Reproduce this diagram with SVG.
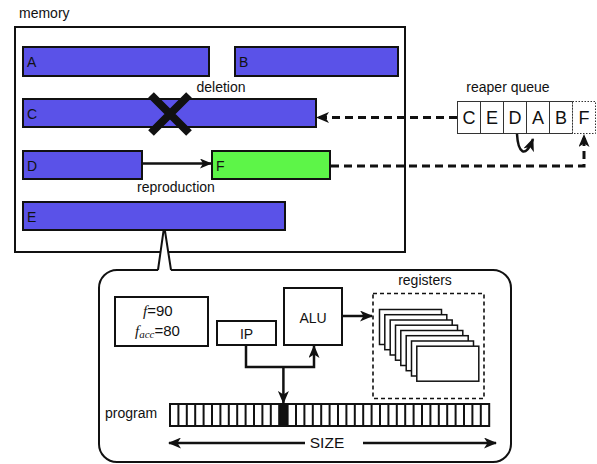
<svg xmlns="http://www.w3.org/2000/svg" width="597" height="464" viewBox="0 0 597 464">
<style>
text{font-family:"Liberation Sans",Arial,sans-serif;fill:#111}
.lbl{font-size:14px}
.blk{fill:#5a52e8;stroke:#111;stroke-width:2}
.grn{fill:#5df548;stroke:#111;stroke-width:2}
.bl{font-size:14px}
.q{fill:#fff;stroke:#333;stroke-width:1}
.qt{font-size:18px;text-anchor:middle}
.box{fill:#fff;stroke:#111;stroke-width:2}
.dash{fill:none;stroke:#111;stroke-width:3;stroke-dasharray:8 5}
.ln{fill:none;stroke:#111;stroke-width:2.5}
.reg{fill:#fff;stroke:#111;stroke-width:1.5}
</style>
<defs>
<marker id="ah" viewBox="0 0 12 10" refX="11" refY="5" markerWidth="12" markerHeight="10" markerUnits="userSpaceOnUse" orient="auto">
<path d="M0,0 L12,5 L0,10 L3,5 z" fill="#111"/>
</marker>
<marker id="ahb" viewBox="0 0 13 11" refX="12" refY="5.5" markerWidth="13" markerHeight="11" markerUnits="userSpaceOnUse" orient="auto">
<path d="M0,0 L13,5.5 L0,11 L3.5,5.5 z" fill="#111"/>
</marker>
</defs>
<rect width="597" height="464" fill="#fff"/>

<g id="memory">
<text class="lbl" x="19" y="18">memory</text>
<rect x="15" y="27" width="390" height="225" fill="#fff" stroke="#111" stroke-width="2"/>
</g>

<g id="A"><rect class="blk" x="23" y="47" width="186" height="29"/><text class="bl" x="27" y="67">A</text></g>
<g id="B"><rect class="blk" x="235" y="47" width="163" height="29"/><text class="bl" x="239" y="67">B</text></g>
<g id="C"><rect class="blk" x="23" y="99" width="293" height="28"/><text class="bl" x="27" y="119">C</text></g>
<g id="D"><rect class="blk" x="23" y="151" width="119" height="28"/><text class="bl" x="27" y="171">D</text></g>
<g id="F"><rect class="grn" x="212" y="151" width="118" height="28"/><text class="bl" x="216" y="171">F</text></g>
<g id="E"><rect class="blk" x="23" y="202" width="262" height="28"/><text class="bl" x="27" y="222">E</text></g>

<g id="deletion">
<path d="M151,95 L189,133 M189,95 L151,133" stroke="#111" stroke-width="8"/>
<text class="lbl" x="221" y="92" text-anchor="middle">deletion</text>
</g>
<text class="lbl" x="176" y="192" text-anchor="middle">reproduction</text>

<g id="queue">
<text class="lbl" x="508" y="92" text-anchor="middle">reaper queue</text>
<rect class="q" x="457.5" y="101.5" width="23" height="32"/>
<rect class="q" x="480.5" y="101.5" width="23" height="32"/>
<rect class="q" x="503.5" y="101.5" width="23" height="32"/>
<rect class="q" x="526.5" y="101.5" width="23" height="32"/>
<rect class="q" x="549.5" y="101.5" width="23" height="32"/>
<rect x="572.5" y="101.5" width="23" height="32" fill="#fff" stroke="#333" stroke-width="1" stroke-dasharray="1.5 1.5"/>
<text class="qt" x="469" y="124">C</text>
<text class="qt" x="492" y="124">E</text>
<text class="qt" x="515" y="124">D</text>
<text class="qt" x="538" y="124">A</text>
<text class="qt" x="561" y="124">B</text>
<text class="qt" x="584" y="124">F</text>
</g>

<g id="panel">
<path d="M158,270 H117 A18,18 0 0 0 99,288 V444 A18,18 0 0 0 117,462 H493 A18,18 0 0 0 511,444 V288 A18,18 0 0 0 493,270 H171" fill="#fff" stroke="#111" stroke-width="2"/>
<path d="M158,270 L163.5,231 L165,231 L171,270" fill="#fff" stroke="#111" stroke-width="2" stroke-linejoin="miter"/>
</g>

<g id="fitness">
<rect class="box" x="115" y="297" width="93" height="49"/>
<text x="143" y="316" font-size="15"><tspan font-family="Liberation Serif,serif" font-style="italic">f</tspan>=90</text>
<text x="135" y="336" font-size="15"><tspan font-family="Liberation Serif,serif" font-style="italic">f</tspan><tspan font-family="Liberation Serif,serif" font-style="italic" font-size="11" dy="2">acc</tspan><tspan dy="-2">=80</tspan></text>
</g>

<g id="IP"><rect class="box" x="217" y="321" width="59" height="24"/><text class="lbl" x="246.5" y="339" text-anchor="middle">IP</text></g>
<g id="ALU"><rect class="box" x="284" y="288" width="58" height="57"/><text class="lbl" x="313" y="323" text-anchor="middle">ALU</text></g>

<g id="registers">
<text class="lbl" x="425" y="285" text-anchor="middle">registers</text>
<rect x="373" y="293.5" width="111" height="105" fill="none" stroke="#111" stroke-width="1.6" stroke-dasharray="4 3"/>
<rect class="reg" x="379.5" y="309.5" width="62" height="35"/>
<rect class="reg" x="384.8" y="314.7" width="62" height="35"/>
<rect class="reg" x="390.2" y="320" width="62" height="35"/>
<rect class="reg" x="395.5" y="325.2" width="62" height="35"/>
<rect class="reg" x="400.8" y="330.5" width="62" height="35"/>
<rect class="reg" x="406.2" y="335.7" width="62" height="35"/>
<rect class="reg" x="411.5" y="341" width="62" height="35"/>
<rect class="reg" x="416.8" y="346.2" width="62" height="35"/>
</g>

<g id="program">
<text class="lbl" x="105" y="418">program</text>
<rect x="170" y="404" width="319.2" height="22" fill="#fff" stroke="#111" stroke-width="2"/>
<rect x="279.2" y="404" width="8.4" height="22" fill="#111"/>
<path d="M178.4,404V426M186.8,404V426M195.2,404V426M203.6,404V426M212,404V426M220.4,404V426M228.8,404V426M237.2,404V426M245.6,404V426M254,404V426M262.4,404V426M270.8,404V426M279.2,404V426M287.6,404V426M296,404V426M304.4,404V426M312.8,404V426M321.2,404V426M329.6,404V426M338,404V426M346.4,404V426M354.8,404V426M363.2,404V426M371.6,404V426M380,404V426M388.4,404V426M396.8,404V426M405.2,404V426M413.6,404V426M422,404V426M430.4,404V426M438.8,404V426M447.2,404V426M455.6,404V426M464,404V426M472.4,404V426M480.8,404V426" stroke="#111" stroke-width="2"/>
<text x="327" y="448" font-size="15.5" text-anchor="middle">SIZE</text>
</g>

<g id="connectors">
<path class="ln" d="M142,163.5 H211" marker-end="url(#ah)"/>
<path class="dash" d="M457,117.5 H317" marker-end="url(#ahb)"/>
<path class="dash" d="M331,166 H584 V135" marker-end="url(#ahb)"/>
<path class="ln" d="M517,134 C518,152 525,160 533,139" marker-end="url(#ahb)"/>
<path class="ln" d="M246,345 V367 H314 V346" marker-end="url(#ahb)"/>
<path class="ln" d="M283.4,367 V403" marker-end="url(#ahb)"/>
<path class="ln" d="M342,316 H372" marker-end="url(#ahb)"/>
<path class="ln" d="M305,443 H169" marker-end="url(#ahb)"/>
<path class="ln" d="M363,443 H496" marker-end="url(#ahb)"/>
</g>
</svg>
